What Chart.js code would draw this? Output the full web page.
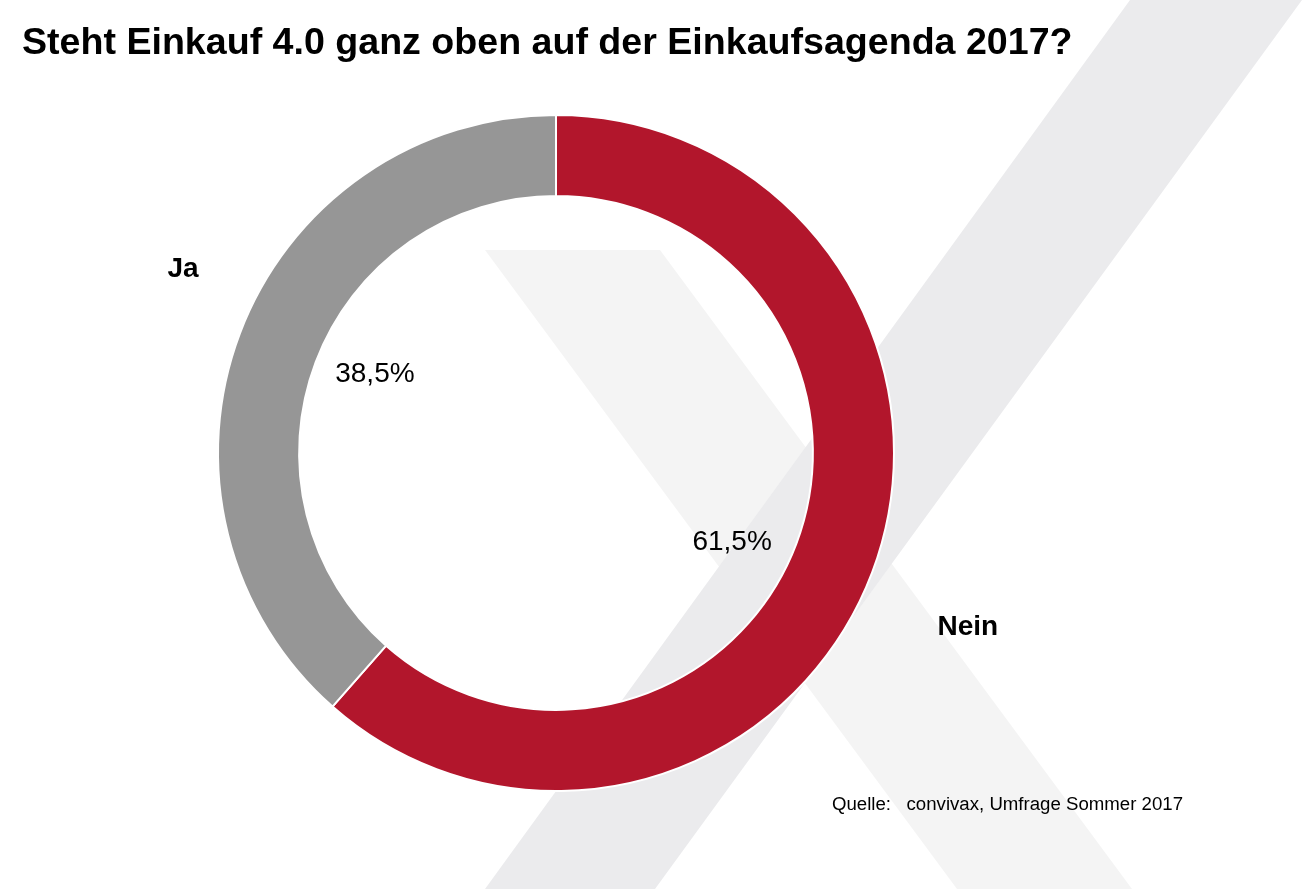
<!DOCTYPE html>
<html>
<head>
<meta charset="utf-8">
<script src="https://cdn.jsdelivr.net/npm/chart.js@4.4.0/dist/chart.umd.min.js"></script>
<style>
  html, body { margin: 0; padding: 0; background: #fff; }
  #wrap { width: 1305px; height: 889px; }
</style>
</head>
<body>
<div id="wrap"><canvas id="chart" width="1305" height="889"></canvas></div>
<script>
// Daten
const categories = ['Nein', 'Ja'];
const shares = [61.5, 38.5];
const shareLabels = ['61,5%', '38,5%'];
const sliceColors = ['#b2162c', '#969696'];
const titleText = 'Steht Einkauf 4.0 ganz oben auf der Einkaufsagenda 2017?';
const sourceText = 'Quelle:   convivax, Umfrage Sommer 2017';

const FONT = '"Liberation Sans", Arial, sans-serif';

// Hintergrund-X (Logo), Titel und Quelle
const backdrop = {
    id: 'backdrop',
    beforeDraw(chart) {
        const c = chart.ctx;
        c.save();
        c.fillStyle = '#f4f4f4';
        c.beginPath();
        c.moveTo(485, 250); c.lineTo(660, 250); c.lineTo(1132, 889); c.lineTo(957, 889);
        c.closePath(); c.fill();
        c.fillStyle = '#ebebed';
        c.beginPath();
        c.moveTo(1130, 0); c.lineTo(1302, 0); c.lineTo(655, 889); c.lineTo(485, 889);
        c.closePath(); c.fill();

        c.fillStyle = '#000';
        c.textBaseline = 'alphabetic';
        // Titel leicht in die Breite gezogen wie im Original
        c.save();
        c.translate(22, 54);
        c.scale(1.044, 1);
        c.font = 'bold 36px ' + FONT;
        c.fillText(titleText, 0, 0);
        c.restore();

        c.save();
        c.translate(832, 810);
        c.scale(1.035, 1);
        c.font = '18px ' + FONT;
        c.fillText(sourceText, 0, 0);
        c.restore();
        c.restore();
    }
};

// Beschriftungen an den Segmenten
const sliceLabels = {
    id: 'sliceLabels',
    afterDatasetsDraw(chart) {
        const c = chart.ctx;
        const arcs = chart.getDatasetMeta(0).data;
        const pctOffset = [[-11, 19], [6, -8]];
        const catOffset = [[19, 26], [20, -35]];
        c.save();
        c.fillStyle = '#000';
        c.textAlign = 'center';
        c.textBaseline = 'middle';
        arcs.forEach((arc, i) => {
            const p = arc.getProps(['x', 'y', 'startAngle', 'endAngle'], true);
            const mid = (p.startAngle + p.endAngle) / 2;
            const cx = Math.cos(mid), cy = Math.sin(mid);
            c.font = '28px ' + FONT;
            c.fillText(shareLabels[i], p.x + cx * 200 + pctOffset[i][0], p.y + cy * 200 + pctOffset[i][1]);
            c.font = 'bold 28px ' + FONT;
            c.fillText(categories[i], p.x + cx * 420 + catOffset[i][0], p.y + cy * 420 + catOffset[i][1]);
        });
        c.restore();
    }
};

const ctx = document.getElementById('chart').getContext('2d');
new Chart(ctx, {
    type: 'doughnut',
    data: {
        labels: categories,
        datasets: [{
            data: shares,
            backgroundColor: sliceColors,
            borderColor: '#ffffff',
            borderWidth: 2
        }]
    },
    options: {
        responsive: false,
        animation: false,
        cutout: '76%',
        layout: { padding: { left: 217, right: 410, top: 114, bottom: 97 } },
        plugins: {
            legend: { display: false },
            tooltip: { enabled: false }
        }
    },
    plugins: [backdrop, sliceLabels]
});
</script>
</body>
</html>
